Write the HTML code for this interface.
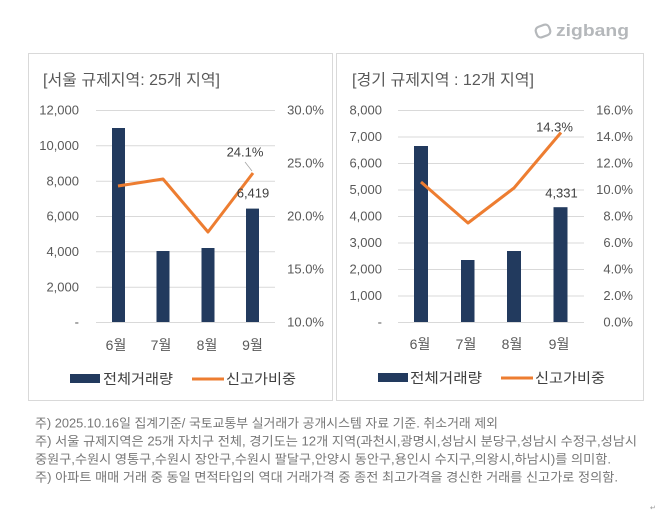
<!DOCTYPE html>
<html>
<head>
<meta charset="utf-8">
<style>
html,body{margin:0;padding:0;background:#fff;}
svg{display:block;}
text{font-family:"Liberation Sans","Noto Sans CJK KR",sans-serif;}
.tk{font-size:13px;fill:#595959;}
.ttl{font-size:15.5px;fill:#595959;}
.xl{font-size:14px;fill:#595959;}
.lg{font-size:14px;fill:#404040;}
.dl{font-size:13px;fill:#404040;}
.fn{font-size:12.5px;fill:#777;}
</style>
</head>
<body>
<svg width="670" height="518" viewBox="0 0 670 518" xmlns="http://www.w3.org/2000/svg">
<rect width="670" height="518" fill="#fff"/>

<!-- zigbang logo -->
<g transform="translate(543,31) rotate(-20)">
  <rect x="-7" y="-5.5" width="14" height="11" rx="4" ry="4" fill="none" stroke="#b5b8bb" stroke-width="2.2"/>
</g>
<text x="556" y="36" font-size="17" font-weight="bold" fill="#b5b8bb" textLength="73" lengthAdjust="spacingAndGlyphs">zigbang</text>

<!-- panels -->
<rect x="28.5" y="53.5" width="304" height="347" fill="#fff" stroke="#d9d9d9" stroke-width="1"/>
<rect x="336.5" y="53.5" width="307" height="347" fill="#fff" stroke="#d9d9d9" stroke-width="1"/>

<!-- ===== LEFT CHART ===== -->
<text class="ttl" x="43" y="85" textLength="177" lengthAdjust="spacingAndGlyphs">[서울 규제지역: 25개 지역]</text>
<g stroke="#d9d9d9" stroke-width="1">
  <line x1="96" x2="275" y1="110.5" y2="110.5"/>
  <line x1="96" x2="275" y1="145.8" y2="145.8"/>
  <line x1="96" x2="275" y1="181.2" y2="181.2"/>
  <line x1="96" x2="275" y1="216.5" y2="216.5"/>
  <line x1="96" x2="275" y1="251.8" y2="251.8"/>
  <line x1="96" x2="275" y1="287.2" y2="287.2"/>
  <line x1="96" x2="275" y1="322.5" y2="322.5"/>
</g>
<g class="tk" text-anchor="end">
  <text x="79" y="114.5">12,000</text>
  <text x="79" y="150">10,000</text>
  <text x="79" y="185.5">8,000</text>
  <text x="79" y="220.5">6,000</text>
  <text x="79" y="256">4,000</text>
  <text x="79" y="291.5">2,000</text>
  <text x="79" y="326.5">-</text>
</g>
<g class="tk" text-anchor="end">
  <text x="324" y="114.5">30.0%</text>
  <text x="324" y="167.5">25.0%</text>
  <text x="324" y="220.5">20.0%</text>
  <text x="324" y="273.5">15.0%</text>
  <text x="324" y="326.5">10.0%</text>
</g>
<g fill="#223a5e">
  <rect x="112" y="128" width="13" height="194"/>
  <rect x="156.5" y="251" width="13" height="71"/>
  <rect x="201.5" y="248" width="13" height="74"/>
  <rect x="246" y="208.6" width="13" height="113.4"/>
</g>
<polyline points="118,186 163,179 208,232 253,173" fill="none" stroke="#ed7d31" stroke-width="3" stroke-linejoin="round"/>
<line x1="245" y1="162" x2="252" y2="171" stroke="#a6a6a6" stroke-width="0.8"/>
<text class="dl" x="245" y="156.5" text-anchor="middle">24.1%</text>
<text class="dl" x="253" y="197.5" text-anchor="middle">6,419</text>
<g class="xl" text-anchor="middle">
  <text x="116" y="350">6월</text>
  <text x="161" y="350">7월</text>
  <text x="207" y="350">8월</text>
  <text x="252.5" y="350">9월</text>
</g>
<rect x="70" y="374" width="30" height="9" fill="#223a5e"/>
<text class="lg" x="103" y="384" textLength="70" lengthAdjust="spacingAndGlyphs">전체거래량</text>
<line x1="192" y1="379" x2="224" y2="379" stroke="#ed7d31" stroke-width="3"/>
<text class="lg" x="226" y="384" textLength="70" lengthAdjust="spacingAndGlyphs">신고가비중</text>

<!-- ===== RIGHT CHART ===== -->
<text class="ttl" x="352" y="85" textLength="182" lengthAdjust="spacingAndGlyphs">[경기 규제지역 : 12개 지역]</text>
<g stroke="#d9d9d9" stroke-width="1">
  <line x1="398" x2="584" y1="110.5" y2="110.5"/>
  <line x1="398" x2="584" y1="137" y2="137"/>
  <line x1="398" x2="584" y1="163.5" y2="163.5"/>
  <line x1="398" x2="584" y1="190" y2="190"/>
  <line x1="398" x2="584" y1="216.5" y2="216.5"/>
  <line x1="398" x2="584" y1="243" y2="243"/>
  <line x1="398" x2="584" y1="269.5" y2="269.5"/>
  <line x1="398" x2="584" y1="296" y2="296"/>
  <line x1="398" x2="584" y1="322.5" y2="322.5"/>
</g>
<g class="tk" text-anchor="end">
  <text x="382" y="114.5">8,000</text>
  <text x="382" y="141">7,000</text>
  <text x="382" y="167.5">6,000</text>
  <text x="382" y="194">5,000</text>
  <text x="382" y="220.5">4,000</text>
  <text x="382" y="247">3,000</text>
  <text x="382" y="273.5">2,000</text>
  <text x="382" y="300">1,000</text>
  <text x="382" y="326.5">-</text>
</g>
<g class="tk" text-anchor="end">
  <text x="633" y="114.5">16.0%</text>
  <text x="633" y="141">14.0%</text>
  <text x="633" y="167.5">12.0%</text>
  <text x="633" y="194">10.0%</text>
  <text x="633" y="220.5">8.0%</text>
  <text x="633" y="247">6.0%</text>
  <text x="633" y="273.5">4.0%</text>
  <text x="633" y="300">2.0%</text>
  <text x="633" y="326.5">0.0%</text>
</g>
<g fill="#223a5e">
  <rect x="414" y="146" width="14" height="176"/>
  <rect x="461" y="260" width="13.5" height="62"/>
  <rect x="507" y="251" width="14" height="71"/>
  <rect x="553.5" y="207.2" width="14" height="114.8"/>
</g>
<polyline points="421,182 468,223 514,188 561,132.5" fill="none" stroke="#ed7d31" stroke-width="3" stroke-linejoin="round"/>
<text class="dl" x="554.5" y="131.5" text-anchor="middle">14.3%</text>
<text class="dl" x="561.5" y="197.5" text-anchor="middle">4,331</text>
<g class="xl" text-anchor="middle">
  <text x="420" y="349">6월</text>
  <text x="466" y="349">7월</text>
  <text x="512" y="349">8월</text>
  <text x="559" y="349">9월</text>
</g>
<rect x="378" y="373" width="30" height="9" fill="#223a5e"/>
<text class="lg" x="410" y="383" textLength="72" lengthAdjust="spacingAndGlyphs">전체거래량</text>
<line x1="501" y1="378" x2="533" y2="378" stroke="#ed7d31" stroke-width="3"/>
<text class="lg" x="535" y="383" textLength="70" lengthAdjust="spacingAndGlyphs">신고가비중</text>

<!-- footnotes -->
<text class="fn" x="35" y="427.5" textLength="463" lengthAdjust="spacingAndGlyphs">주) 2025.10.16일 집계기준/ 국토교통부 실거래가 공개시스템 자료 기준. 취소거래 제외</text>
<text class="fn" x="35" y="445.5" textLength="602" lengthAdjust="spacingAndGlyphs">주) 서울 규제지역은 25개 자치구 전체, 경기도는 12개 지역(과천시,광명시,성남시 분당구,성남시 수정구,성남시</text>
<text class="fn" x="35" y="463.5" textLength="576" lengthAdjust="spacingAndGlyphs">중원구,수원시 영통구,수원시 장안구,수원시 팔달구,안양시 동안구,용인시 수지구,의왕시,하남시)를 의미함.</text>
<text class="fn" x="35" y="481.5" textLength="583" lengthAdjust="spacingAndGlyphs">주) 아파트 매매 거래 중 동일 면적타입의 역대 거래가격 중 종전 최고가격을 경신한 거래를 신고가로 정의함.</text>
<text x="650" y="510" font-size="7" fill="#999">↵</text>
</svg>
</body>
</html>
